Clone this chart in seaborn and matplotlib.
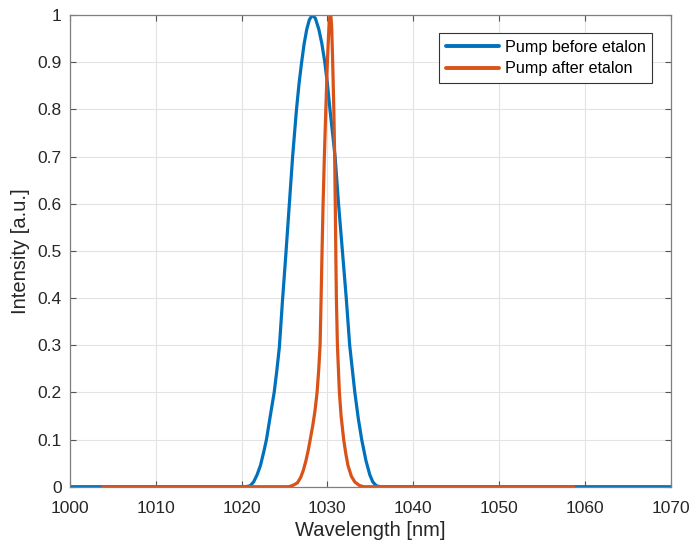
import matplotlib
matplotlib.use("Agg")
import matplotlib.pyplot as plt
import seaborn as sns
import pandas as pd

# Pump before etalon
blue_wl = [1000, 1020.5, 1021.0, 1021.4, 1021.8, 1022.2, 1022.6, 1022.9, 1023.3, 1023.8,
           1024.1, 1024.4, 1024.75, 1025.15, 1025.55, 1025.95, 1026.4, 1026.7, 1027.0, 1027.3,
           1027.6, 1027.9, 1028.25, 1028.6, 1029.0, 1029.35, 1029.7, 1030.0, 1030.3, 1030.6,
           1030.9, 1031.3, 1031.75, 1032.2, 1032.6, 1032.9, 1033.2, 1033.6, 1034.0, 1034.5,
           1034.95, 1035.3, 1035.7, 1036.2, 1070]
blue_int = [0, 0, 0.002, 0.01, 0.025, 0.045, 0.075, 0.1, 0.145, 0.2,
            0.245, 0.295, 0.39, 0.49, 0.595, 0.7, 0.8, 0.855, 0.9, 0.94,
            0.97, 0.99, 1.0, 0.993, 0.97, 0.94, 0.9, 0.855, 0.8, 0.75,
            0.7, 0.6, 0.5, 0.4, 0.3, 0.25, 0.2, 0.145, 0.1, 0.055,
            0.025, 0.01, 0.002, 0, 0]

# Pump after etalon
orange_wl = [1003.8, 1025.5, 1026.0, 1026.5, 1026.9, 1027.2, 1027.5, 1027.8, 1028.05, 1028.3,
             1028.55, 1028.8, 1029.0, 1029.15, 1029.27, 1029.38, 1029.5, 1029.65, 1029.82, 1030.0,
             1030.12, 1030.22, 1030.29, 1030.35, 1030.42, 1030.5, 1030.62, 1030.75, 1030.85, 1030.92,
             1030.98, 1031.05, 1031.17, 1031.4, 1031.6, 1031.9, 1032.15, 1032.4, 1032.8, 1033.2,
             1033.7, 1034.2, 1058.7]
orange_int = [0, 0, 0.003, 0.008, 0.02, 0.035, 0.055, 0.08, 0.105, 0.13,
              0.16, 0.2, 0.25, 0.3, 0.4, 0.5, 0.6, 0.7, 0.8, 0.9,
              0.95, 0.985, 0.998, 1.0, 0.996, 0.975, 0.9, 0.8, 0.7, 0.6,
              0.5, 0.4, 0.3, 0.2, 0.15, 0.1, 0.07, 0.045, 0.022, 0.01,
              0.003, 0, 0]

labels = ["Pump before etalon", "Pump after etalon"]
x_ticks = [1000, 1010, 1020, 1030, 1040, 1050, 1060, 1070]
y_ticks = [0, 0.1, 0.2, 0.3, 0.4, 0.5, 0.6, 0.7, 0.8, 0.9, 1]
y_tick_labels = ["0", "0.1", "0.2", "0.3", "0.4", "0.5", "0.6", "0.7", "0.8", "0.9", "1"]

df = pd.concat([
    pd.DataFrame({"wl": blue_wl, "I": blue_int, "series": labels[0]}),
    pd.DataFrame({"wl": orange_wl, "I": orange_int, "series": labels[1]}),
], ignore_index=True)

sns.set_theme(style="whitegrid")
plt.rcParams["font.family"] = ["Liberation Sans", "DejaVu Sans"]

txt = "#262626"
fig = plt.figure(figsize=(6.89, 5.46), dpi=100)
ax = fig.add_axes([0.1016, 0.1086, 0.8716, 0.8639])
sns.lineplot(data=df, x="wl", y="I", hue="series", hue_order=labels,
             palette=["#0072BD", "#D95319"], linewidth=2.3, estimator=None,
             sort=False, ax=ax)

ax.set_xlim(1000, 1070)
ax.set_ylim(0, 1)
ax.set_xticks(x_ticks)
ax.set_xticklabels([str(t) for t in x_ticks])
ax.set_yticks(y_ticks)
ax.set_yticklabels(y_tick_labels)
ax.set_xlabel("Wavelength [nm]", fontsize=14.5, color=txt, labelpad=4)
ax.set_ylabel("Intensity [a.u.]", fontsize=14.5, color=txt, labelpad=5)
ax.tick_params(axis="x", pad=10)
ax.tick_params(axis="y", pad=6)
ax.tick_params(axis="both", labelsize=12.5, colors="#555555", direction="in",
               length=4, width=0.8, bottom=True, left=True, top=True, right=True,
               labeltop=False, labelright=False)
for lab in ax.get_xticklabels() + ax.get_yticklabels():
    lab.set_color(txt)
ax.grid(True, color="#e3e3e3", linewidth=0.8)
ax.set_facecolor("white")
for s in ax.spines.values():
    s.set_visible(True)
    s.set_color("#7f7f7f")
    s.set_linewidth(0.9)

leg = ax.legend(loc="upper right", bbox_to_anchor=(0.969, 0.961), fontsize=11.6,
                frameon=True, fancybox=False, handlelength=3.3, handletextpad=0.35,
                borderpad=0.4, labelspacing=0.4, borderaxespad=0.0)
leg.get_frame().set_edgecolor("#333333")
leg.get_frame().set_linewidth(0.8)
leg.get_frame().set_alpha(1)
for t in leg.get_texts():
    t.set_color("black")
for l in leg.get_lines():
    l.set_linewidth(2.8)

fig.savefig("out.png", dpi=100, facecolor="white")
